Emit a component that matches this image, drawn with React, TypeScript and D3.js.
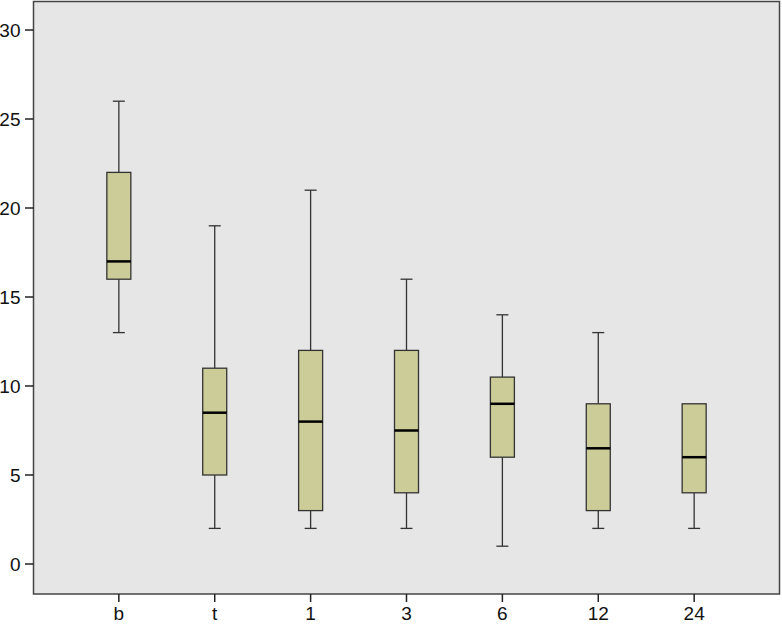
import React from "react";
import * as d3 from "d3";

const categories = ["b", "t", "1", "3", "6", "12", "24"];
const mins = [13, 2, 2, 2, 1, 2, 2];
const q1s = [16, 5, 3, 4, 6, 3, 4];
const medians = [17, 8.5, 8, 7.5, 9, 6.5, 6];
const q3s = [22, 11, 12, 12, 10.5, 9, 9];
const maxs = [26, 19, 21, 16, 14, 13, 9];
const yTicks = [0, 5, 10, 15, 20, 25, 30];

export default function App() {
  const W = 782, H = 625;
  const left = 33.5, right = 779.5, top = 1.5, bottom = 594;
  const x = d3.scalePoint<string>().domain(categories).range([left, right]).padding(0.89);
  const y = d3.scaleLinear().domain([0, 30]).range([564, 30]);
  const boxW = 24, capW = 12;
  const font = "Arial, 'Liberation Sans', Helvetica, sans-serif";
  return (
    <svg width={W} height={H} style={{ position: "absolute", left: 0, top: 0 }}>
      <rect x={left} y={top} width={right - left} height={bottom - top} fill="#e6e6e6" stroke="#444" strokeWidth={1.5} />
      {yTicks.map((t) => (
        <g key={t}>
          <line x1={25} x2={left} y1={y(t)} y2={y(t)} stroke="#222" strokeWidth={1.5} />
          <text x={20.5} y={y(t)} dy="0.36em" textAnchor="end" fontSize="19px" fontFamily={font} fill="#111">{t}</text>
        </g>
      ))}
      {categories.map((c) => (
        <g key={c}>
          <line x1={x(c)} x2={x(c)} y1={bottom} y2={602} stroke="#222" strokeWidth={1.5} />
          <text x={x(c)} y={620} textAnchor="middle" fontSize="19px" fontFamily={font} fill="#111">{c}</text>
        </g>
      ))}
      {categories.map((c, i) => {
        const cx = x(c) as number;
        return (
          <g key={"b" + c}>
            {maxs[i] > q3s[i] && (
              <>
                <line x1={cx} x2={cx} y1={y(maxs[i])} y2={y(q3s[i])} stroke="#333" strokeWidth={1.3} />
                <line x1={cx - capW / 2} x2={cx + capW / 2} y1={y(maxs[i])} y2={y(maxs[i])} stroke="#333" strokeWidth={1.3} />
              </>
            )}
            {mins[i] < q1s[i] && (
              <>
                <line x1={cx} x2={cx} y1={y(q1s[i])} y2={y(mins[i])} stroke="#333" strokeWidth={1.3} />
                <line x1={cx - capW / 2} x2={cx + capW / 2} y1={y(mins[i])} y2={y(mins[i])} stroke="#333" strokeWidth={1.3} />
              </>
            )}
            <rect x={cx - boxW / 2} y={y(q3s[i])} width={boxW} height={y(q1s[i]) - y(q3s[i])} fill="#cccc99" stroke="#333" strokeWidth={1.3} />
            <line x1={cx - boxW / 2} x2={cx + boxW / 2} y1={y(medians[i])} y2={y(medians[i])} stroke="#000" strokeWidth={2.5} />
          </g>
        );
      })}
    </svg>
  );
}
